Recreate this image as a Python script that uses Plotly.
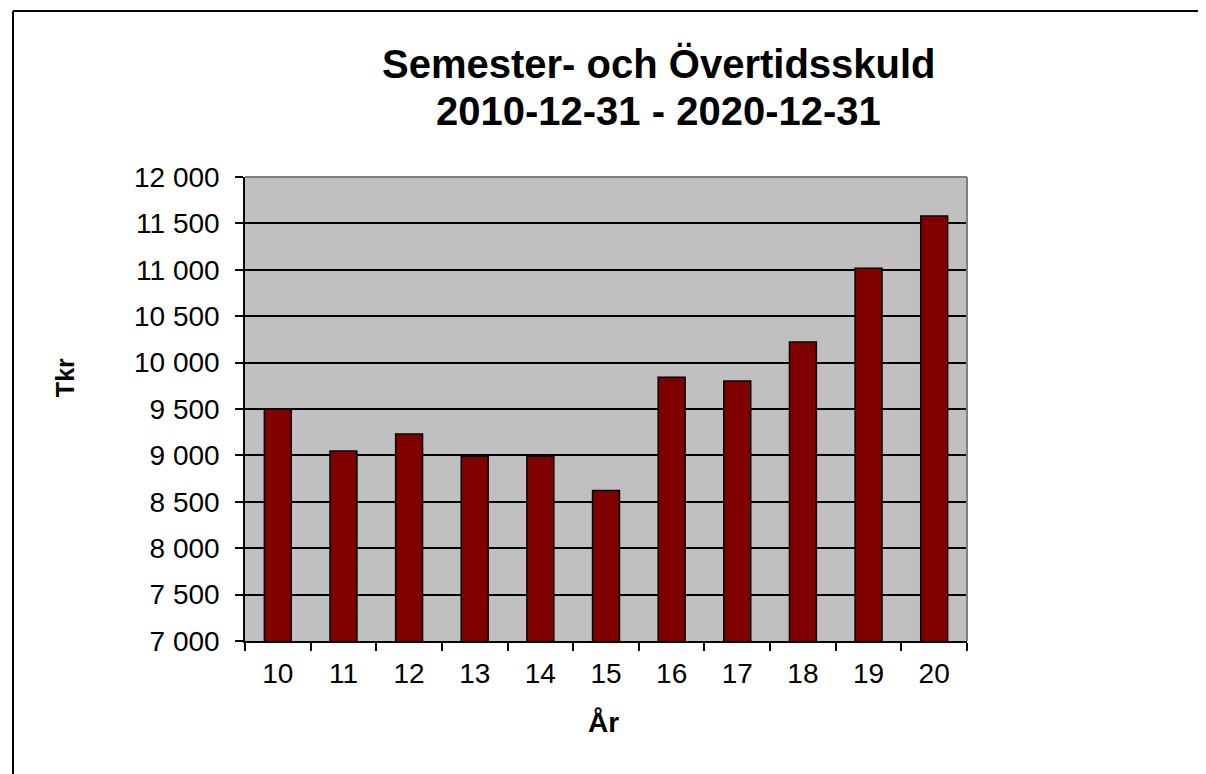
import plotly.graph_objects as go

years = ["10", "11", "12", "13", "14", "15", "16", "17", "18", "19", "20"]
skuld = [9500, 9047, 9230, 8990, 8990, 8623, 9842, 9802, 10223, 11018, 11579]

y_ticks = [7000, 7500, 8000, 8500, 9000, 9500, 10000, 10500, 11000, 11500, 12000]
y_ticktext = ["7 000", "7 500", "8 000", "8 500", "9 000", "9 500", "10 000", "10 500", "11 000", "11 500", "12 000"]

title_lines = ["Semester- och Övertidsskuld", "2010-12-31 - 2020-12-31"]
x_title = "År"
y_title = "Tkr"

FONT = "Liberation Sans, Arial, sans-serif"

fig = go.Figure(
    go.Bar(
        x=years,
        y=skuld,
        marker=dict(color="#800000", line=dict(color="black", width=1.5)),
        hoverinfo="x+y",
    )
)

fig.update_layout(
    width=1198,
    height=766,
    margin=dict(l=237, r=239, t=169, b=133),
    paper_bgcolor="white",
    plot_bgcolor="#C0C0C0",
    bargap=0.59,
    showlegend=False,
    font=dict(family=FONT, color="black", size=28),
    xaxis=dict(
        type="category",
        tickson="boundaries",
        ticks="outside",
        ticklen=8,
        tickwidth=1.5,
        tickcolor="black",
        showline=True,
        linecolor="black",
        linewidth=1.5,
        showgrid=False,
        ticklabelstandoff=7,
        tickfont=dict(size=28, family=FONT, color="black"),
        fixedrange=True,
    ),
    yaxis=dict(
        range=[7000, 12000],
        tickvals=y_ticks,
        ticktext=y_ticktext,
        ticks="outside",
        ticklen=8,
        tickwidth=1.5,
        tickcolor="black",
        showline=True,
        linecolor="black",
        linewidth=1.5,
        showgrid=True,
        gridcolor="black",
        gridwidth=1.5,
        zeroline=False,
        ticklabelstandoff=10,
        tickfont=dict(size=28, family=FONT, color="black"),
        fixedrange=True,
    ),
)

annotations = [
    dict(text="<b>%s</b>" % title_lines[0], x=0.573, y=1.2435, xref="paper", yref="paper",
         showarrow=False, xanchor="center", yanchor="middle", font=dict(size=40, family=FONT, color="black")),
    dict(text="<b>%s</b>" % title_lines[1], x=0.573, y=1.1422, xref="paper", yref="paper",
         showarrow=False, xanchor="center", yanchor="middle", font=dict(size=40, family=FONT, color="black")),
    dict(text="<b>%s</b>" % x_title, x=0.497, y=-0.1746, xref="paper", yref="paper",
         showarrow=False, xanchor="center", yanchor="middle", font=dict(size=28, family=FONT, color="black")),
    dict(text="<b>%s</b>" % y_title, x=-0.249, y=0.567, xref="paper", yref="paper",
         showarrow=False, xanchor="center", yanchor="middle", textangle=-90,
         font=dict(size=25, family=FONT, color="black")),
]
fig.update_layout(annotations=annotations)

# Outer chart frame (top and left border visible) and grey plot-area border (top and right)
fig.update_layout(shapes=[
    dict(type="line", xref="paper", yref="paper", x0=(13 - 245) / 722, x1=(1210 - 245) / 722,
         y0=(641 - 11) / 464, y1=(641 - 11) / 464, line=dict(color="black", width=2), layer="above"),
    dict(type="line", xref="paper", yref="paper", x0=(13 - 245) / 722, x1=(13 - 245) / 722,
         y0=(641 - 11) / 464, y1=(641 - 780) / 464, line=dict(color="black", width=2), layer="above"),
    dict(type="line", xref="paper", yref="paper", x0=0, x1=1, y0=1, y1=1,
         line=dict(color="#808080", width=2), layer="above"),
    dict(type="line", xref="paper", yref="paper", x0=1, x1=1, y0=0, y1=1,
         line=dict(color="#808080", width=2), layer="above"),
])

fig.write_html("out.html")
